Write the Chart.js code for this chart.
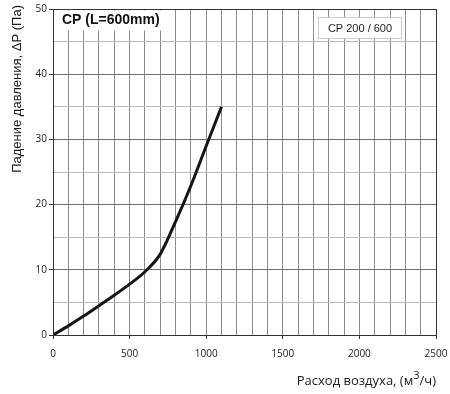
<!DOCTYPE html>
<html>
<head>
<meta charset="utf-8">
<script src="https://cdn.jsdelivr.net/npm/chart.js@4/dist/chart.umd.min.js"></script>
<style>
  html, body { margin: 0; padding: 0; background: #fff; }
</style>
</head>
<body>
<canvas id="myChart" width="450" height="394"></canvas>
<script>
// data
const airflow = [0, 100, 200, 300, 400, 500, 600, 700, 800, 900, 1000, 1100];
const pressure = [0, 1.4, 2.9, 4.5, 6.1, 7.8, 9.7, 12.4, 17.4, 22.9, 29.0, 35];
const xLabels = [0, 500, 1000, 1500, 2000, 2500];
const yLabels = [0, 10, 20, 30, 40, 50];
const chartTitle = 'CP (L=600mm)';
const seriesName = 'CP 200 / 600';
const yTitle = 'Падение давления, ΔP (Па)';
const xTitleParts = ['Расход воздуха, (м', '3', '/ч)'];

const points = airflow.map((v, i) => ({ x: v, y: pressure[i] }));

const decorPlugin = {
  id: 'decor',
  afterDraw(chart) {
    const ctx = chart.ctx;
    const area = chart.chartArea;
    ctx.save();

    // title box in the top left corner (inside the plot border)
    ctx.fillStyle = '#fff';
    ctx.fillRect(area.left + 1.5, area.top + 1.5, 115, 20);
    ctx.fillStyle = '#111';
    ctx.font = 'bold 14px "Liberation Sans", Arial, sans-serif';
    ctx.textAlign = 'left';
    ctx.textBaseline = 'middle';
    ctx.fillText(chartTitle, 62, 20);

    // legend box
    ctx.fillStyle = '#fff';
    ctx.fillRect(318, 17, 83, 21);
    ctx.strokeStyle = '#c8c8c8';
    ctx.lineWidth = 1;
    ctx.strokeRect(318.5, 17.5, 83, 21);
    ctx.fillStyle = '#222';
    ctx.font = '11px "Liberation Sans", Arial, sans-serif';
    ctx.textAlign = 'center';
    ctx.fillText(seriesName, 360, 28.5);

    // y axis title
    ctx.save();
    ctx.translate(17, 5);
    ctx.rotate(-Math.PI / 2);
    ctx.font = '13px "Liberation Sans", Arial, sans-serif';
    ctx.textAlign = 'right';
    ctx.textBaseline = 'middle';
    ctx.fillStyle = '#1a1a1a';
    ctx.fillText(yTitle, 0, 0);
    ctx.restore();

    // x axis title, with a raised 3
    ctx.font = '13px "Open Sans", sans-serif';
    const w0 = ctx.measureText(xTitleParts[0]).width;
    const w2 = ctx.measureText(xTitleParts[2]).width;
    ctx.font = '11px "Open Sans", sans-serif';
    const w1 = ctx.measureText(xTitleParts[1]).width;
    let x = 436 - (w0 + w1 + w2);
    ctx.textAlign = 'left';
    ctx.textBaseline = 'alphabetic';
    ctx.fillStyle = '#1a1a1a';
    ctx.font = '13px "Open Sans", sans-serif';
    ctx.fillText(xTitleParts[0], x, 385);
    x += w0;
    ctx.font = '11px "Open Sans", sans-serif';
    ctx.fillText(xTitleParts[1], x, 379);
    x += w1;
    ctx.font = '13px "Open Sans", sans-serif';
    ctx.fillText(xTitleParts[2], x, 385);

    ctx.restore();
  }
};

new Chart(document.getElementById('myChart'), {
  type: 'line',
  data: {
    datasets: [{
      label: seriesName,
      data: points,
      borderColor: '#151515',
      borderWidth: 3,
      pointRadius: 0,
      cubicInterpolationMode: 'monotone',
      fill: false
    }]
  },
  options: {
    responsive: false,
    devicePixelRatio: 1,
    animation: false,
    layout: { padding: { top: 9, right: 14, left: 0, bottom: 0 } },
    plugins: {
      legend: { display: false },
      tooltip: { enabled: false }
    },
    scales: {
      x: {
        type: 'linear',
        min: 0,
        max: 2500,
        afterFit: scale => {
          scale.height = 59;
          scale.paddingLeft = 0;
          scale.paddingRight = 0;
        },
        ticks: {
          stepSize: 100,
          autoSkip: false,
          maxTicksLimit: 100,
          maxRotation: 0,
          padding: 9,
          color: '#1a1a1a',
          font: { family: '"Open Sans", sans-serif', size: 10 },
          callback: v => xLabels.includes(v) ? String(v) : ''
        },
        grid: {
          tickLength: 4,
          color: c => (c.tick && c.tick.value === 2500) ? '#333' : '#8c8c8c',
          tickColor: c => (c.tick && xLabels.includes(c.tick.value)) ? '#333' : 'rgba(0,0,0,0)'
        },
        border: { color: '#333', width: 1 }
      },
      y: {
        min: 0,
        max: 50,
        afterFit: scale => {
          scale.width = 53;
          scale.paddingTop = 0;
          scale.paddingBottom = 0;
        },
        ticks: {
          stepSize: 5,
          autoSkip: false,
          maxTicksLimit: 100,
          padding: 2,
          color: '#1a1a1a',
          font: { family: '"Open Sans", sans-serif', size: 10 },
          callback: v => yLabels.includes(v) ? String(v) : ''
        },
        grid: {
          tickLength: 4,
          color: c => {
            const v = c.tick ? c.tick.value : 0;
            if (v === 50) return '#333';
            return v % 10 === 0 ? '#6e6e6e' : '#b8b8b8';
          },
          tickColor: c => (c.tick && yLabels.includes(c.tick.value)) ? '#333' : 'rgba(0,0,0,0)'
        },
        border: { color: '#333', width: 1 }
      }
    }
  },
  plugins: [decorPlugin]
});
</script>
</body>
</html>
